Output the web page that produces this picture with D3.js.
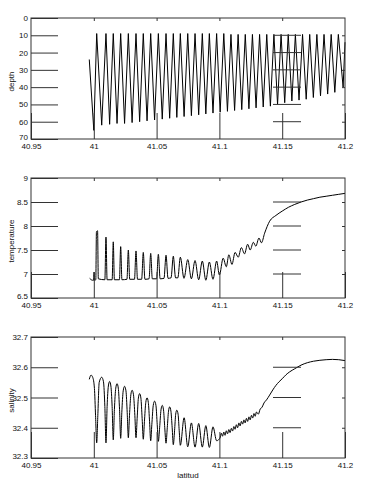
<!DOCTYPE html>
<html><head><meta charset="utf-8">
<script src="https://cdn.jsdelivr.net/npm/d3@7"></script>
<style>html,body{margin:0;padding:0;background:#fff;}svg{display:block;}</style>
</head><body>
<svg id="c" width="370" height="491"></svg>
<script>
// ---- data ----
const latTicks = [40.95, 41, 41.05, 41.1, 41.15, 41.2];
const depthTicks = [0, 10, 20, 30, 40, 50, 60, 70];
const tempTicks = [6.5, 7, 7.5, 8, 8.5, 9];
const salTicks = [32.3, 32.4, 32.5, 32.6, 32.7];

const depthLat = [40.9964, 41.0000, 41.0023, 41.0063, 41.0097, 41.0126, 41.0155, 41.0185, 41.0214, 41.0245,
  41.0275, 41.0305, 41.0336, 41.0365, 41.0394, 41.0424, 41.0453, 41.0484, 41.0514, 41.0545,
  41.0575, 41.0604, 41.0633, 41.0661, 41.0689, 41.0719, 41.0748, 41.0777, 41.0806, 41.0835,
  41.0864, 41.0892, 41.0920, 41.0949, 41.0978, 41.1006, 41.1035, 41.1064, 41.1092, 41.1121,
  41.1149, 41.1178, 41.1206, 41.1235, 41.1263, 41.1292, 41.1320, 41.1349, 41.1377, 41.1406,
  41.1434, 41.1463, 41.1491, 41.1520, 41.1548, 41.1577, 41.1605, 41.1634, 41.1662, 41.1691,
  41.1719, 41.1748, 41.1776, 41.1805, 41.1833, 41.1862, 41.1890, 41.1919, 41.1947, 41.1985, 41.2000];
const depthVal = [24, 65, 9, 62, 9, 61.5, 9, 61, 9, 61,
  9, 60.5, 9, 60, 9, 59.5, 9, 59, 9, 58.5,
  9, 58, 9, 57.5, 9, 57, 9, 56.5, 9, 56,
  9, 55.5, 9, 55, 9, 54.5, 9, 54, 9.5, 53.5,
  9.5, 53, 9.5, 52.5, 9.5, 52, 9.5, 51.5, 9.5, 51,
  9.5, 50, 9.5, 49, 9.5, 48, 9.5, 47.5, 9.5, 47,
  9.5, 46, 9.5, 45, 9.5, 44, 9.5, 43, 9.5, 40, 14];

const tempLat = [40.9967, 40.9990, 40.9998, 41.0002, 41.0006, 41.0016, 41.0021, 41.0030, 41.0036,
  41.0088, 41.0097, 41.0106, 41.0146, 41.0155, 41.0164, 41.0204, 41.0214, 41.0224,
  41.0264, 41.0275, 41.0286, 41.0324, 41.0336, 41.0348, 41.0381, 41.0394, 41.0407,
  41.0440, 41.0453, 41.0466, 41.0500, 41.0514, 41.0528, 41.0559, 41.0575, 41.0591,
  41.0615, 41.0633, 41.0651, 41.0669, 41.0689, 41.0718, 41.0748, 41.0777, 41.0806,
  41.0835, 41.0864, 41.0892, 41.0920, 41.0949, 41.0978, 41.1000, 41.1030, 41.1055,
  41.1075, 41.1100, 41.1125, 41.1150, 41.1175, 41.1200, 41.1225, 41.1245, 41.1270,
  41.1290, 41.1315, 41.1335, 41.1360, 41.1400, 41.1450, 41.1500, 41.1550, 41.1600,
  41.1650, 41.1700, 41.1750, 41.1800, 41.1850, 41.1900, 41.1950, 41.2000];
const tempVal = [6.91, 6.87, 6.87, 7.04, 6.87, 6.88, 7.88, 7.90, 6.90,
  6.88, 7.77, 6.88, 6.88, 7.67, 6.88, 6.88, 7.57, 6.88,
  6.89, 7.50, 6.89, 6.89, 7.48, 6.89, 6.89, 7.45, 6.89,
  6.90, 7.43, 6.90, 6.90, 7.41, 6.90, 6.91, 7.39, 6.91,
  6.92, 7.37, 6.92, 6.92, 7.35, 6.91, 7.30, 6.90, 7.28,
  6.88, 7.27, 6.87, 7.25, 6.89, 7.27, 6.98, 7.33, 7.15,
  7.40, 7.20, 7.45, 7.35, 7.55, 7.42, 7.62, 7.50, 7.66,
  7.58, 7.75, 7.65, 7.85, 8.10, 8.22, 8.31, 8.39, 8.45,
  8.50, 8.54, 8.57, 8.60, 8.62, 8.64, 8.66, 8.68];

const salLat = [40.9964, 40.9978, 40.9992, 41.0005, 41.0014, 41.0023, 41.0032, 41.0043, 41.0063,
  41.0077, 41.0088, 41.0097, 41.0106, 41.0116, 41.0126, 41.0136, 41.0146,
  41.0155, 41.0164, 41.0175, 41.0185, 41.0195, 41.0205,
  41.0214, 41.0223, 41.0234, 41.0245, 41.0256, 41.0266,
  41.0275, 41.0284, 41.0295, 41.0305, 41.0316, 41.0327,
  41.0336, 41.0345, 41.0355, 41.0365, 41.0375, 41.0385,
  41.0394, 41.0403, 41.0414, 41.0424, 41.0434, 41.0444,
  41.0453, 41.0462, 41.0473, 41.0484, 41.0495, 41.0505,
  41.0514, 41.0524, 41.0535, 41.0545, 41.0555, 41.0565,
  41.0575, 41.0585, 41.0595, 41.0604, 41.0614, 41.0624,
  41.0633, 41.0643, 41.0652, 41.0661, 41.0671, 41.0680,
  41.0689, 41.0719, 41.0748, 41.0777, 41.0806, 41.0835, 41.0864, 41.0892, 41.0920, 41.0949, 41.0978,
  41.1005, 41.1015, 41.1025, 41.1035, 41.1045, 41.1055, 41.1065, 41.1075, 41.1085, 41.1095,
  41.1105, 41.1115, 41.1125, 41.1135, 41.1145, 41.1155, 41.1165, 41.1175, 41.1185, 41.1195,
  41.1205, 41.1215, 41.1225, 41.1235, 41.1245, 41.1255, 41.1265, 41.1275, 41.1285, 41.1295,
  41.1310, 41.1325, 41.1340, 41.1355, 41.1375, 41.1400, 41.1425, 41.1450, 41.1475, 41.1500,
  41.1530, 41.1560, 41.1600, 41.1650, 41.1700, 41.1750, 41.1800, 41.1850, 41.1900, 41.1950, 41.2000];
const salVal = [32.560, 32.574, 32.566, 32.530, 32.440, 32.350, 32.440, 32.550, 32.567,
  32.552, 32.470, 32.350, 32.470, 32.538, 32.553, 32.538, 32.470,
  32.360, 32.460, 32.531, 32.546, 32.531, 32.460,
  32.365, 32.450, 32.522, 32.537, 32.522, 32.450,
  32.367, 32.440, 32.509, 32.524, 32.509, 32.440,
  32.367, 32.430, 32.498, 32.513, 32.498, 32.430,
  32.362, 32.420, 32.484, 32.499, 32.484, 32.420,
  32.357, 32.410, 32.473, 32.488, 32.473, 32.410,
  32.355, 32.400, 32.459, 32.474, 32.459, 32.400,
  32.349, 32.400, 32.455, 32.469, 32.455, 32.400,
  32.344, 32.390, 32.445, 32.458, 32.445, 32.390,
  32.342, 32.433, 32.337, 32.416, 32.336, 32.414, 32.336, 32.407, 32.335, 32.403, 32.357,
  32.366, 32.382, 32.372, 32.386, 32.375, 32.390, 32.380, 32.394, 32.384, 32.398,
  32.389, 32.404, 32.395, 32.410, 32.400, 32.416, 32.406, 32.421, 32.412, 32.426,
  32.416, 32.431, 32.421, 32.436, 32.426, 32.441, 32.432, 32.447, 32.438, 32.452,
  32.445, 32.462, 32.468, 32.482, 32.492, 32.508, 32.525, 32.540, 32.552, 32.562,
  32.575, 32.585, 32.595, 32.607, 32.615, 32.620, 32.623, 32.625, 32.626, 32.625, 32.622];

// ---- drawing ----
const svg = d3.select('#c');
svg.append('rect').attr('width', 370).attr('height', 491).attr('fill', '#fff');
const L = 31, R = 345;
const x = d3.scaleLinear().domain([40.95, 41.2]).range([L, R]);
const fmt = d => String(d);
const axisColor = '#333';
const font = 'Liberation Sans, Arial, Helvetica, sans-serif';

const panels = [
  {top: 18, bottom: 139, domain: [0, 70], flip: true, ticks: depthTicks, label: 'depth', lat: depthLat, val: depthVal, curve: d3.curveLinear},
  {top: 178, bottom: 298, domain: [6.5, 9], flip: false, ticks: tempTicks, label: 'temperature', lat: tempLat, val: tempVal, curve: d3.curveMonotoneX},
  {top: 337, bottom: 458, domain: [32.3, 32.7], flip: false, ticks: salTicks, label: 'salinity', lat: salLat, val: salVal, curve: d3.curveMonotoneX}
];

panels.forEach((p, i) => {
  const y = d3.scaleLinear().domain(p.domain).range(p.flip ? [p.top, p.bottom] : [p.bottom, p.top]);
  const g = svg.append('g');
  const inner = p.ticks.slice(1, -1);
  const innerX = latTicks.slice(1, -1);
  const lowest = p.flip ? p.ticks[p.ticks.length - 1] : p.ticks[0];

  // data line
  const pts = p.lat.map((v, k) => [v, p.val[k]]);
  g.append('path').datum(pts)
    .attr('fill', 'none').attr('stroke', '#000').attr('stroke-width', 1)
    .attr('stroke-linejoin', 'round')
    .attr('d', d3.line().x(d => x(d[0])).y(d => y(d[1])).curve(p.curve));

  // left axis with long inward ticks
  const ga = g.append('g').attr('transform', `translate(${L},0)`)
    .call(d3.axisLeft(y).tickValues(p.ticks).tickFormat(fmt).tickSizeInner(-27).tickSizeOuter(0).tickPadding(3));
  ga.selectAll('.tick').filter(d => d === lowest).select('text').attr('dy', '0.05em');
  // bottom axis with long inward ticks
  const gb = g.append('g').attr('transform', `translate(0,${p.bottom})`)
    .call(d3.axisBottom(x).tickValues(latTicks).tickFormat(fmt).tickSizeInner(-26).tickSizeOuter(0).tickPadding(4));
  // top axis short ticks
  const gt = g.append('g').attr('transform', `translate(0,${p.top})`)
    .call(d3.axisTop(x).tickValues(innerX).tickFormat('').tickSizeInner(-3).tickSizeOuter(0));
  // right axis short ticks
  const gr = g.append('g').attr('transform', `translate(${R},0)`)
    .call(d3.axisRight(y).tickValues(inner).tickFormat('').tickSizeInner(-3).tickSizeOuter(0));
  [ga, gb, gt, gr].forEach(a => {
    a.select('.domain').remove();
    a.selectAll('line').attr('stroke', axisColor);
    a.selectAll('text').attr('fill', '#111').style('font-family', font).style('font-size', '8px');
  });
  // stray tick segments near the right side
  g.append('g').selectAll('line').data(inner).join('line')
    .attr('x1', R - 72).attr('x2', R - 44)
    .attr('y1', d => y(d)).attr('y2', d => y(d))
    .attr('stroke', axisColor);

  // frame
  g.append('rect').attr('x', L).attr('y', p.top).attr('width', R - L).attr('height', p.bottom - p.top)
    .attr('fill', 'none').attr('stroke', axisColor).attr('stroke-width', 1);

  // y label
  g.append('text')
    .attr('transform', `translate(14,${(p.top + p.bottom) / 2 + 3}) rotate(-90)`)
    .attr('text-anchor', 'middle')
    .style('font-family', font).style('font-size', '8px').attr('fill', '#111')
    .text(p.label);
});

svg.append('text').attr('x', (L + R) / 2).attr('y', 478).attr('text-anchor', 'middle')
  .style('font-family', font).style('font-size', '8px').attr('fill', '#111').text('latitud');
</script>
</body></html>
